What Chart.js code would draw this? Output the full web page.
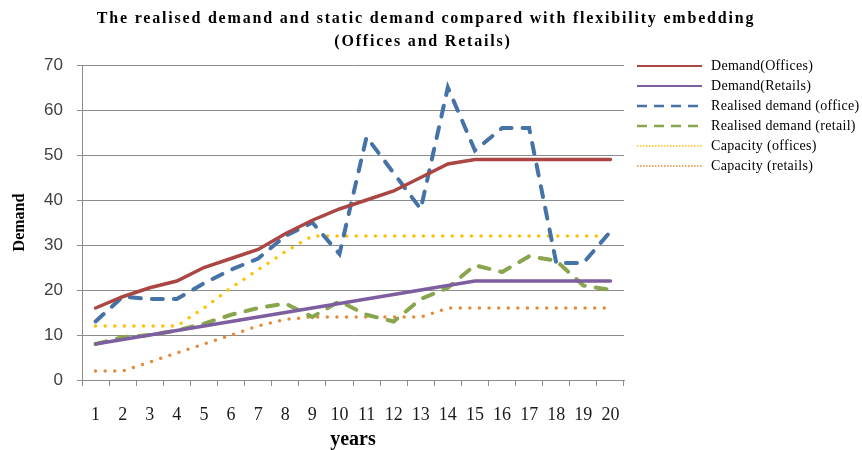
<!DOCTYPE html>
<html>
<head>
<meta charset="utf-8">
<script src="https://cdn.jsdelivr.net/npm/chart.js@4.4.1/dist/chart.umd.min.js"></script>
<style>
  html, body { margin: 0; padding: 0; background: #fff; }
  #wrap { width: 862px; height: 450px; }
</style>
</head>
<body>
<div id="wrap"><canvas id="chart" width="862" height="450"></canvas></div>
<script>
// values
const years = ['1', '2', '3', '4', '5', '6', '7', '8', '9', '10', '11', '12', '13', '14', '15', '16', '17', '18', '19', '20'];
const demandOffices = [16, 18.5, 20.5, 22, 25, 27, 29, 32.5, 35.5, 38, 40, 42, 45, 48, 49, 49, 49, 49, 49, 49];
const demandRetails = [8, 9, 10, 11, 12, 13, 14, 15, 16, 17, 18, 19, 20, 21, 22, 22, 22, 22, 22, 22];
const realisedOffice = [13, 18.5, 18, 18, 21.5, 24.5, 27, 32, 35, 28, 54, 46, 38, 65, 51, 56, 56, 26, 26, 33];
const realisedRetail = [8, 9.5, 10, 11, 12.5, 14.5, 16, 17, 14, 17.5, 14.5, 13, 18, 20.5, 25.5, 24, 27.5, 26.5, 21, 20];
const capacityOffices = [12, 12, 12, 12, 16, 20.5, 24.5, 28.5, 32, 32, 32, 32, 32, 32, 32, 32, 32, 32, 32, 32];
const capacityRetails = [2, 2, 4, 6, 8, 10, 12, 13.5, 14, 14, 14, 14, 14, 16, 16, 16, 16, 16, 16, 16];
const yTicks = [0, 10, 20, 30, 40, 50, 60, 70];
const titleLines = ['The realised demand and static demand compared with flexibility embedding', '(Offices and Retails)'];

const serif = '"Liberation Serif", "Times New Roman", serif';
const sans = '"Liberation Sans", Arial, sans-serif';

function solid(label, data, color) {
  return { label, data, borderColor: color, backgroundColor: color, borderWidth: 3.5,
    borderCapStyle: 'round', pointRadius: 0, tension: 0,
    legendStyle: { width: 2, dash: [] } };
}
function dashed(label, data, color) {
  return { label, data, borderColor: color, backgroundColor: color, borderWidth: 4,
    borderDash: [11, 11], borderCapStyle: 'round', pointRadius: 0, tension: 0,
    legendStyle: { width: 2.5, dash: [10, 7] } };
}
function dotted(label, data, color) {
  return { label, data, borderColor: color, backgroundColor: color, borderWidth: 3.5,
    borderDash: [0, 9.6], borderCapStyle: 'round', pointRadius: 0, tension: 0,
    legendStyle: { width: 1.5, dash: [1.5, 1.5] } };
}

// title and legend sit in the padding around the plot, drawn here
const sideText = {
  id: 'sideText',
  afterDraw(chart) {
    const c = chart.ctx;
    c.save();
    c.fillStyle = '#000';
    c.textAlign = 'center';
    c.textBaseline = 'middle';
    c.font = 'bold 16px ' + serif;
    c.letterSpacing = '1.8px';
    c.fillText(titleLines[0], 426, 19);
    c.fillText(titleLines[1], 423, 42);

    c.font = '14px ' + serif;
    c.letterSpacing = '0.3px';
    c.textAlign = 'left';
    chart.data.datasets.forEach((ds, i) => {
      const y = 66 + i * 20;
      c.beginPath();
      c.strokeStyle = ds.borderColor;
      c.lineWidth = ds.legendStyle.width;
      c.setLineDash(ds.legendStyle.dash);
      c.lineCap = 'butt';
      c.moveTo(637, y);
      c.lineTo(702, y);
      c.stroke();
      c.setLineDash([]);
      c.fillStyle = '#000';
      c.fillText(ds.label, 711, y);
    });
    c.restore();
  }
};

const ctx = document.getElementById('chart').getContext('2d');
const chart = new Chart(ctx, {
  type: 'line',
  data: {
    labels: years,
    datasets: [
      solid('Demand(Offices)', demandOffices, '#AA4643'),
      solid('Demand(Retails)', demandRetails, '#7D5FA0'),
      dashed('Realised demand (office)', realisedOffice, '#4572A7'),
      dashed('Realised demand (retail)', realisedRetail, '#89A54E'),
      dotted('Capacity (offices)', capacityOffices, '#FFC000'),
      dotted('Capacity (retails)', capacityRetails, '#E58A3C')
    ]
  },
  options: {
    responsive: false,
    animation: false,
    layout: { padding: { left: 0, right: 238, top: 65, bottom: 0 } },
    plugins: {
      title: { display: false },
      legend: { display: false },
      tooltip: { enabled: false }
    },
    scales: {
      x: {
        offset: true,
        afterFit(scale) { scale.height = 70; },
        grid: { display: true, drawOnChartArea: false, drawTicks: true, tickLength: 6, color: '#8C8C8C', offset: true },
        border: { display: true, color: '#8C8C8C', width: 1 },
        ticks: { color: '#1a1a1a', font: { family: serif, size: 18 }, padding: 18, maxRotation: 0, autoSkip: false },
        title: { display: true, text: 'years', color: '#000', font: { family: serif, size: 20, weight: 'bold', lineHeight: 1 }, padding: { top: 0, bottom: 0 } }
      },
      y: {
        min: 0,
        max: 70,
        afterBuildTicks(scale) { scale.ticks = yTicks.map(v => ({ value: v })); },
        afterFit(scale) { scale.width = 82; },
        grid: { color: '#8C8C8C', tickLength: 5, lineWidth: 1 },
        border: { display: true, color: '#8C8C8C', width: 1 },
        ticks: { color: '#404040', font: { family: sans, size: 17 }, padding: 14 },
        title: { display: true, text: 'Demand', color: '#000', font: { family: serif, size: 16, weight: 'bold' }, padding: { top: 10, bottom: 0 } }
      }
    }
  },
  plugins: [sideText]
});
</script>
</body>
</html>
